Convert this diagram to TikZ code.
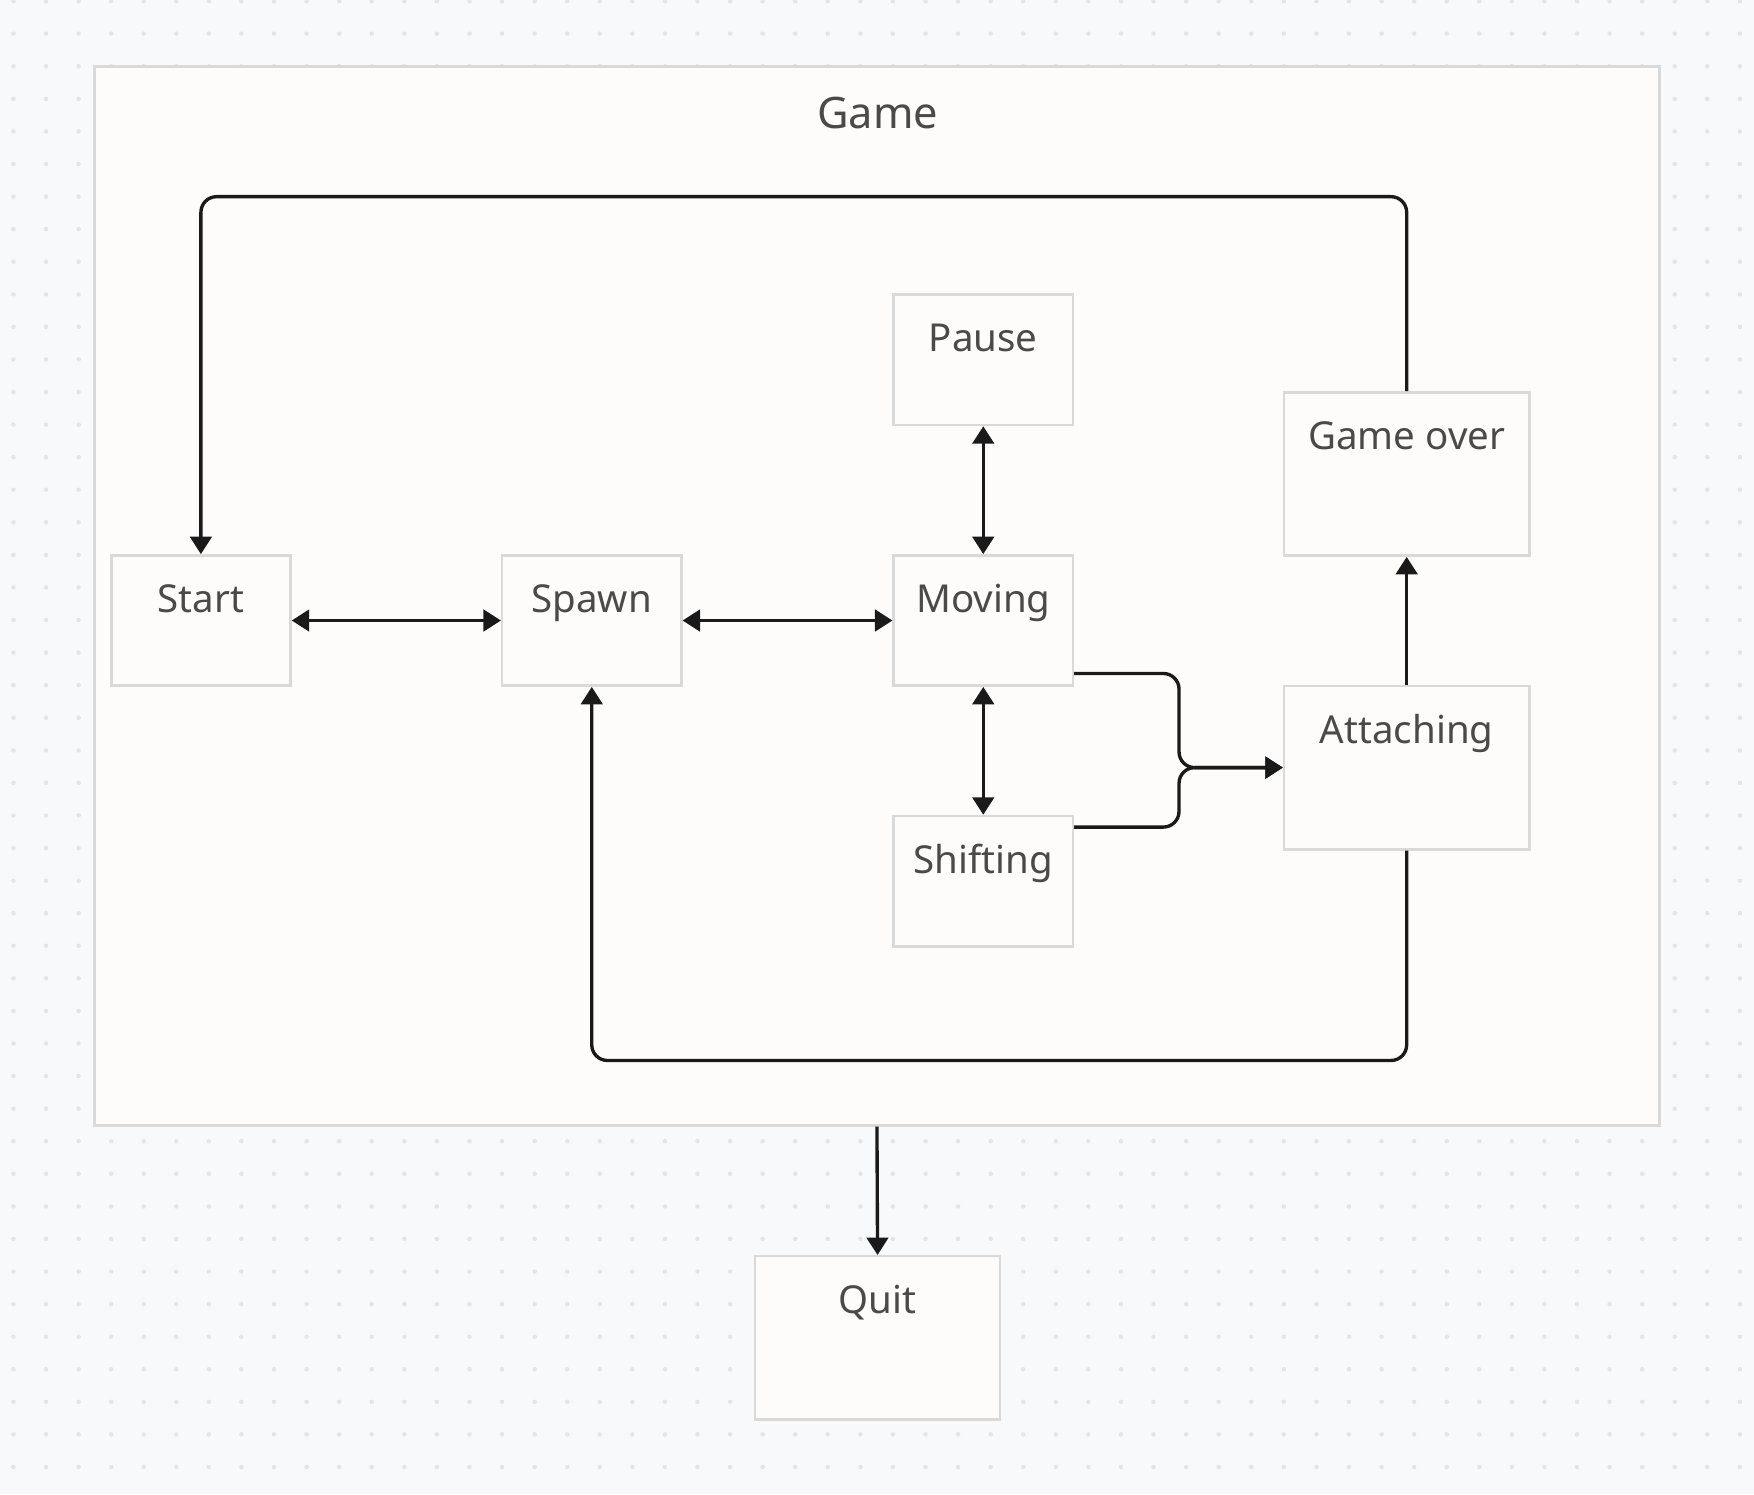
\documentclass[tikz,border=0pt]{standalone}
\usepackage{fontspec}
\setmainfont{Noto Sans}
\usetikzlibrary{arrows.meta,calc}
\definecolor{bgc}{HTML}{F8F9FB}
\definecolor{framefill}{HTML}{FDFCFB}
\definecolor{framedraw}{HTML}{D9D9D9}
\definecolor{dotc}{HTML}{E2E4E8}
\definecolor{txt}{HTML}{4A4A4A}
\definecolor{linec}{HTML}{1A1A1A}
\begin{document}
\begin{tikzpicture}[x=0.5pt,y=-0.5pt,
  >={Triangle[length=7.8pt,width=9.6pt]},
  box/.style={draw=framedraw, line width=1.1pt, fill=framefill, text=txt,
    font=\fontsize{17.2}{20}\selectfont, inner xsep=0pt, inner ysep=0pt,
    text height=25.5pt},
  smallbox/.style={box, minimum width=80.1pt, text depth=32.75pt},
  bigbox/.style={box, minimum width=109.6pt, text depth=47.5pt},
  conn/.style={draw=linec, line width=1.5pt, rounded corners=7pt}]
\fill[bgc] (0,0) rectangle (1568,1335.6);
\useasboundingbox (0,0) rectangle (1568,1335.6);
\foreach \i in {0,...,53}{
  \foreach \j in {0,...,45}{
    \fill[dotc] (12+29.12*\i, 1+29.12*\j) circle (1pt);
  }
}
\node[draw=framedraw, line width=1.1pt, fill=framefill, minimum width=699.45pt,
  minimum height=473.35pt, inner sep=0pt] (game) at (783.95,532.65) {};
\node[text=txt, font=\fontsize{19.4}{23}\selectfont, anchor=base, inner sep=0pt]
  (gametitle) at (784.5,114.5) {Game};

\node[smallbox] (pause) at (879,321.7) {Pause};
\node[smallbox] (moving) at (879,554.7) {Moving};
\node[smallbox] (shifting) at (879,787.7) {Shifting};
\node[smallbox] (start) at (179.6,554.7) {Start};
\node[smallbox] (spawn) at (529,554.7) {Spawn};
\node[bigbox] (gameover) at (1257.5,423.7) {Game over};
\node[bigbox] (attaching) at (1257.5,686.2) {Attaching};
\node[bigbox] (quit) at (784.5,1196) {Quit};

\draw[conn,<->] (start) -- (spawn);
\draw[conn,<->] (spawn) -- (moving);
\draw[conn,<->] (pause) -- (moving);
\draw[conn,<->] (moving) -- (shifting);
\draw[conn,->] (attaching) -- (gameover);
\coordinate (merge) at (1054,686.2);
\draw[conn,->] ($(moving.south east)+(0,-12)$) -| (merge) -- (attaching.west);
\draw[conn,->] ($(shifting.north east)+(0,11)$) -| (merge) -- (attaching.west);
\coordinate (topy) at (0,175.8);
\draw[conn,->] (gameover.north) -- (gameover.north |- topy) -- (start.north |- topy) -- (start.north);
\coordinate (boty) at (0,948);
\draw[conn,->] (attaching.south) -- (attaching.south |- boty) -- (spawn.south |- boty) -- (spawn.south);
\draw[conn,->] (game.south) -- (quit.north);
\end{tikzpicture}
\end{document}
